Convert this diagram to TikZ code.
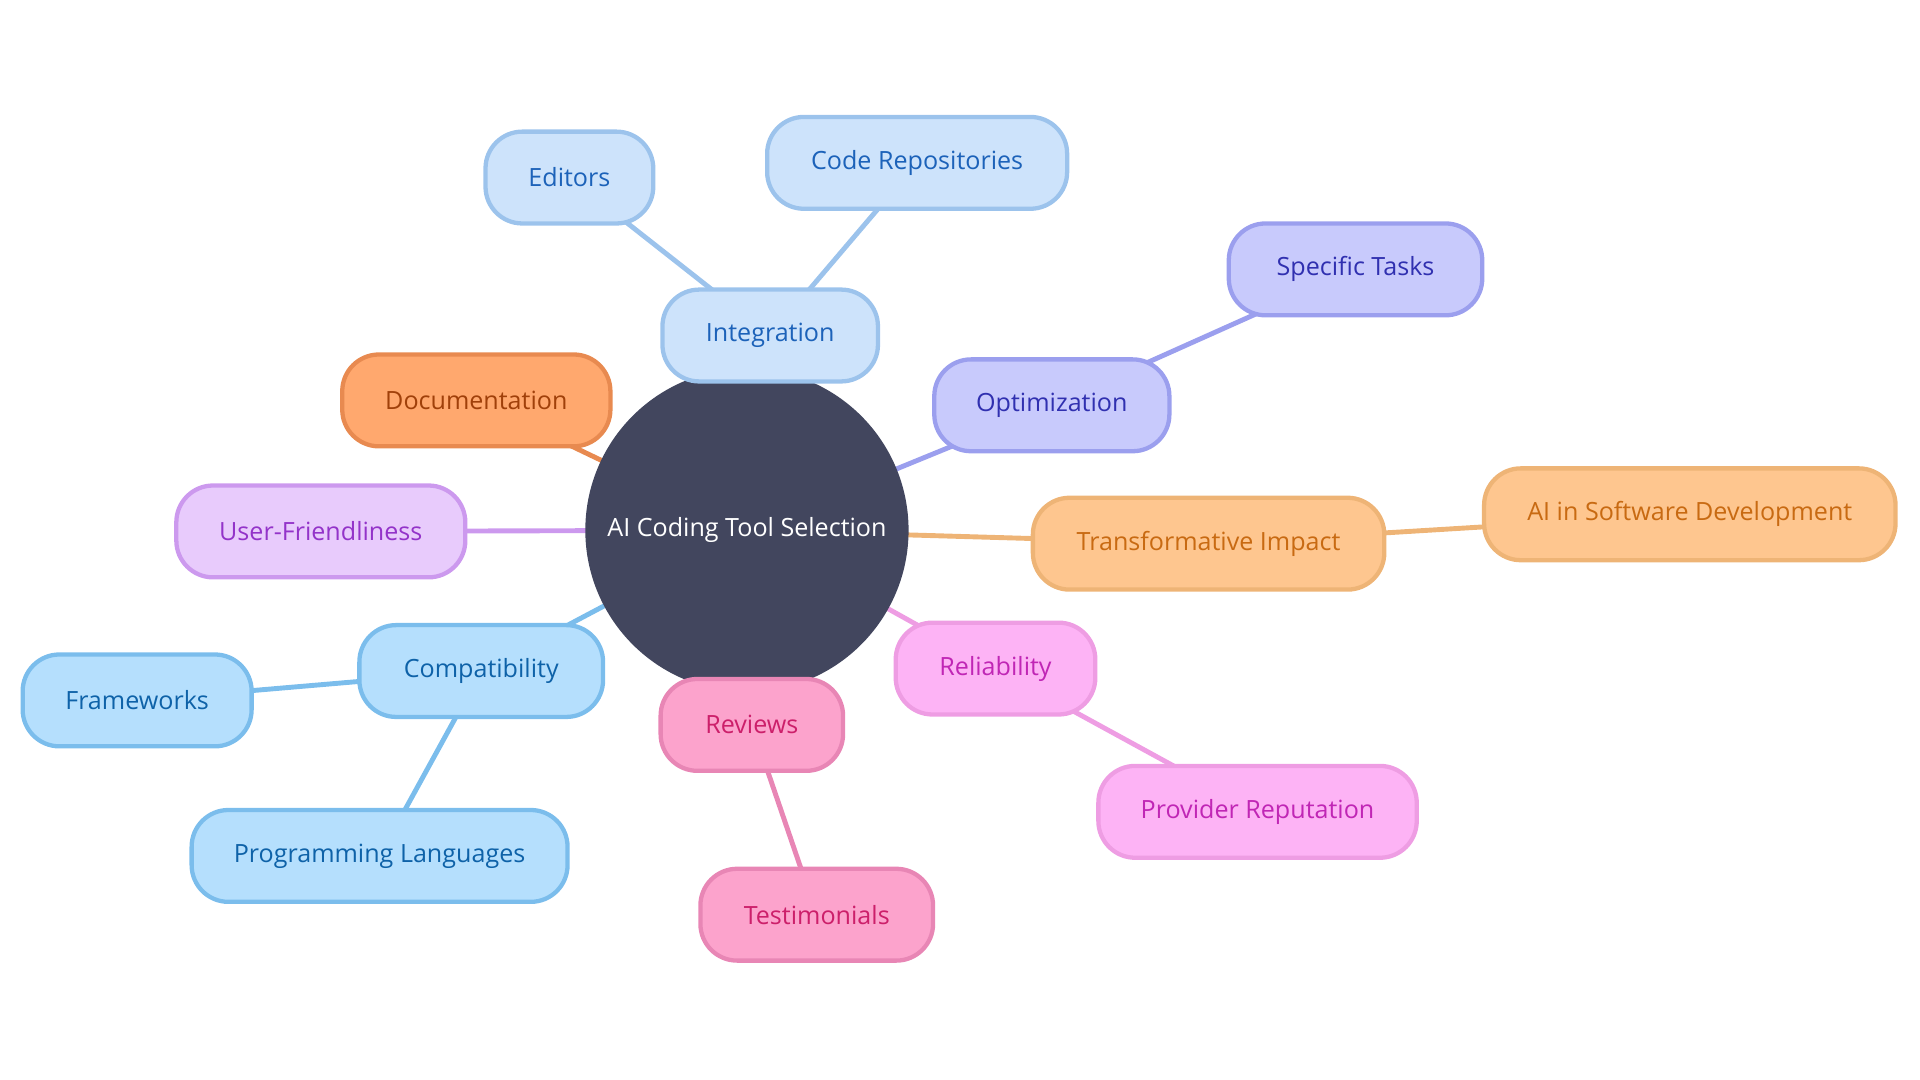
\documentclass[tikz,border=0pt]{standalone}
\usepackage{fontspec}
\setmainfont{Open Sans}
\usetikzlibrary{backgrounds}

\definecolor{hubfill}{HTML}{42465E}
\definecolor{intfill}{HTML}{CDE3FB}
\definecolor{intline}{HTML}{9CC3EC}
\definecolor{inttext}{HTML}{1C62B9}
\definecolor{optfill}{HTML}{C8CAFC}
\definecolor{optline}{HTML}{9B9FEE}
\definecolor{opttext}{HTML}{3030B0}
\definecolor{docfill}{HTML}{FFA86E}
\definecolor{docline}{HTML}{E88A50}
\definecolor{doctext}{HTML}{A0400A}
\definecolor{usrfill}{HTML}{E8CBFC}
\definecolor{usrline}{HTML}{CC99EE}
\definecolor{usrtext}{HTML}{9333C9}
\definecolor{trafill}{HTML}{FEC68F}
\definecolor{traline}{HTML}{EEB476}
\definecolor{tratext}{HTML}{C86A12}
\definecolor{comfill}{HTML}{B5DFFD}
\definecolor{comline}{HTML}{7BBDEC}
\definecolor{comtext}{HTML}{0E62A8}
\definecolor{relfill}{HTML}{FDB3F5}
\definecolor{relline}{HTML}{EE9DE3}
\definecolor{reltext}{HTML}{C026B5}
\definecolor{revfill}{HTML}{FCA3CC}
\definecolor{revline}{HTML}{E886B5}
\definecolor{revtext}{HTML}{CC1F6A}

\begin{document}
\begin{tikzpicture}[
    x=1pt,
    y=-1pt,
    font=\fontsize{20.5}{24}\selectfont,
    hub/.style={
        circle,
        fill=hubfill,
        text=white,
        minimum size=264pt,
        inner sep=0pt
    },
    idea/.style={
        rectangle,
        rounded corners=30pt,
        line width=3.5pt,
        minimum height=75pt,
        inner xsep=4pt,
        align=center
    },
    integ/.style={idea, fill=intfill, draw=intline, text=inttext},
    optim/.style={idea, fill=optfill, draw=optline, text=opttext},
    docu/.style={idea, fill=docfill, draw=docline, text=doctext},
    usab/.style={idea, fill=usrfill, draw=usrline, text=usrtext},
    trans/.style={idea, fill=trafill, draw=traline, text=tratext},
    compat/.style={idea, fill=comfill, draw=comline, text=comtext},
    relia/.style={idea, fill=relfill, draw=relline, text=reltext},
    revw/.style={idea, fill=revfill, draw=revline, text=revtext},
    link/.style={
        line width=4pt
    }
]

\useasboundingbox (0,0) rectangle (1568,882);

% Central topic
\node [hub] (hub) at (610,433) {AI Coding Tool Selection};

% Branches
\node [integ, minimum width=176pt] (integ) at (629,274) {Integration};
\node [integ, minimum width=137pt] (editors) at (465,145) {Editors};
\node [integ, minimum width=245pt] (repos) at (749,133) {Code Repositories};

\node [optim, minimum width=192pt] (optim) at (859,331) {Optimization};
\node [optim, minimum width=207pt] (tasks) at (1107,220) {Specific Tasks};

\node [docu, minimum width=219pt] (docu) at (389,327) {Documentation};

\node [usab, minimum width=236pt] (usab) at (262,434) {User-Friendliness};

\node [trans, minimum width=287pt] (trans) at (987,444) {Transformative Impact};
\node [trans, minimum width=336pt] (aisoft) at (1380,420) {AI in Software Development};

\node [compat, minimum width=199pt] (compat) at (393,548) {Compatibility};
\node [compat, minimum width=187pt] (frame) at (112,572) {Frameworks};
\node [compat, minimum width=307pt] (langs) at (310,699) {Programming Languages};

\node [relia, minimum width=163pt] (relia) at (813,546) {Reliability};
\node [relia, minimum width=260pt] (provider) at (1027,663) {Provider Reputation};

\node [revw, minimum width=149pt] (revw) at (614,592) {Reviews};
\node [revw, minimum width=190pt] (testim) at (667,747) {Testimonials};

% Connections
\begin{scope}[on background layer]
\draw [link, intline] (hub.center) -- (integ.center);
\draw [link, intline] (integ.center) -- (editors.center);
\draw [link, intline] (integ.center) -- (repos.center);
\draw [link, optline] (hub.center) -- (optim.center);
\draw [link, optline] (optim.center) -- (tasks.center);
\draw [link, docline] (hub.center) -- (docu.center);
\draw [link, usrline] (hub.center) -- (usab.center);
\draw [link, traline] (hub.center) -- (trans.center);
\draw [link, traline] (trans.center) -- (aisoft.center);
\draw [link, comline] (hub.center) -- (compat.center);
\draw [link, comline] (compat.center) -- (frame.center);
\draw [link, comline] (compat.center) -- (langs.center);
\draw [link, relline] (hub.center) -- (relia.center);
\draw [link, relline] (relia.center) -- (provider.center);
\draw [link, revline] (hub.center) -- (revw.center);
\draw [link, revline] (revw.center) -- (testim.center);
\end{scope}

\end{tikzpicture}
\end{document}
